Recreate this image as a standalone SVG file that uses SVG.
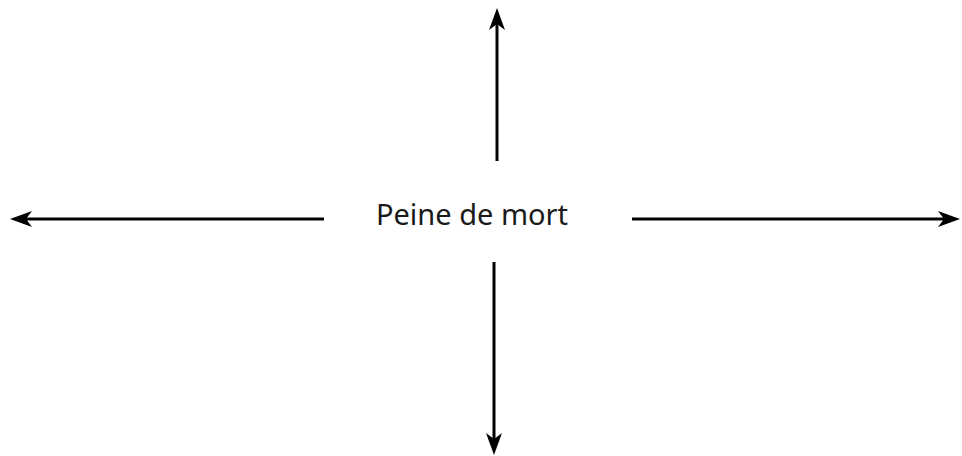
<svg xmlns="http://www.w3.org/2000/svg" width="962" height="456" viewBox="0 0 962 456">
<style>
.edge{stroke:#000;stroke-width:3;fill:none;marker-end:url(#ah)}
.lbl{font-family:"Noto Sans","Open Sans","DejaVu Sans",sans-serif;font-size:29px;fill:#1a1a1a}
</style>
<defs>
<marker id="ah" markerUnits="userSpaceOnUse" viewBox="-10 -10 26 20" refX="0" refY="0" markerWidth="26" markerHeight="20" orient="auto">
<path d="M14,0 L-8,-8 L-2,0 L-8,8 Z" fill="#000"/>
</marker>
</defs>
<rect width="962" height="456" fill="#fff"/>
<g id="connectors">
<line class="edge" x1="497" y1="161" x2="497" y2="22"/>
<line class="edge" x1="494" y1="262" x2="494" y2="441"/>
<line class="edge" x1="324" y1="219" x2="24" y2="219"/>
<line class="edge" x1="632" y1="219" x2="946" y2="219"/>
</g>
<g id="center">
<text class="lbl" x="472" y="225" text-anchor="middle">Peine de mort</text>
</g>
</svg>
